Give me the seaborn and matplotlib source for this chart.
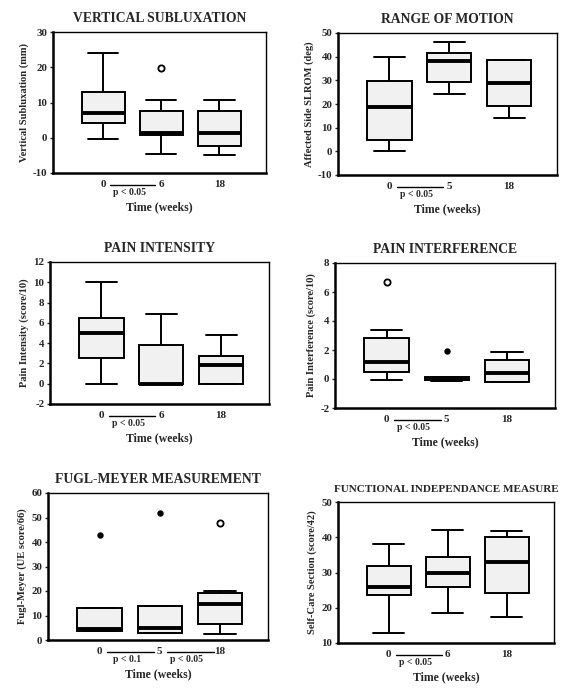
import numpy as np
import pandas as pd
import matplotlib
matplotlib.use("Agg")
import matplotlib.pyplot as plt
import matplotlib.transforms as mtransforms
import seaborn as sns

# --- data: nine values per group (quartiles sit on values 3, 5 and 7) ---
vs_weeks = ["0", "6", "18"]
vs_w0 = [-0.3, 2.0, 4.2, 5.5, 7.0, 10.0, 12.9, 18.0, 24.0]
vs_w6 = [-4.7, -1.5, 0.7, 1.0, 1.3, 4.0, 7.5, 10.7, 19.7]
vs_w18 = [-4.8, -3.5, -2.2, 0.0, 1.3, 5.0, 7.7, 9.0, 10.6]

rom_weeks = ["0", "5", "18"]
rom_w0 = [0.0, 2.0, 4.7, 12.0, 18.6, 24.0, 29.9, 35.0, 40.0]
rom_w5 = [24.3, 27.0, 29.4, 34.0, 38.2, 40.0, 41.7, 44.0, 46.0]
rom_w18 = [14.2, 17.0, 19.3, 24.0, 28.8, 34.0, 38.5, 38.5, 38.5]

pint_weeks = ["0", "6", "18"]
pint_w0 = [0.0, 1.5, 2.5, 4.0, 5.0, 5.8, 6.45, 8.0, 10.0]
pint_w6 = [0.0, 0.0, 0.0, 0.0, 0.0, 2.0, 3.8, 5.0, 6.9]
pint_w18 = [0.0, 0.0, 0.0, 1.0, 1.85, 2.3, 2.7, 3.5, 4.8]

pif_weeks = ["0", "5", "18"]
pif_w0 = [-0.05, 0.2, 0.45, 0.8, 1.15, 2.0, 2.85, 3.35, 6.7]
pif_w5 = [-0.12, -0.12, -0.1, -0.05, -0.02, 0.05, 0.15, 0.15, 1.95]
pif_w18 = [-0.2, -0.2, -0.2, 0.1, 0.4, 0.9, 1.33, 1.6, 1.86]

fm_weeks = ["0", "5", "18"]
fm_w0 = [3.5, 3.5, 3.5, 4.0, 4.5, 9.0, 13.0, 13.0, 43.0]
fm_w5 = [3.0, 3.0, 3.0, 4.0, 5.0, 9.0, 14.0, 14.0, 52.0]
fm_w18 = [2.4, 4.5, 6.7, 10.0, 14.6, 17.0, 19.3, 20.0, 47.7]

fim_weeks = ["0", "6", "18"]
fim_w0 = [12.8, 18.0, 23.7, 25.0, 25.85, 29.0, 31.9, 35.0, 38.1]
fim_w6 = [18.5, 22.0, 26.0, 28.0, 30.0, 32.0, 34.3, 38.0, 42.1]
fim_w18 = [17.4, 21.0, 24.2, 28.0, 32.9, 37.0, 40.2, 41.0, 41.9]

panels = [
    dict(title="VERTICAL SUBLUXATION", ylabel="Vertical Subluxation (mm)",
         weeks=vs_weeks, groups=[vs_w0, vs_w6, vs_w18],
         ylim=(-10, 30), yticks=[-10, 0, 10, 20, 30],
         pvals=[(0, 1, "p < 0.05")], rect=(53, 32, 266, 173), tsize=9.8),
    dict(title="RANGE OF MOTION", ylabel="Affected Side SLROM (deg)",
         weeks=rom_weeks, groups=[rom_w0, rom_w5, rom_w18],
         ylim=(-10, 50), yticks=[-10, 0, 10, 20, 30, 40, 50],
         pvals=[(0, 1, "p < 0.05")], rect=(338, 33, 557, 175), tsize=9.8),
    dict(title="PAIN INTENSITY", ylabel="Pain Intensity (score/10)",
         weeks=pint_weeks, groups=[pint_w0, pint_w6, pint_w18],
         ylim=(-2, 12), yticks=[-2, 0, 2, 4, 6, 8, 10, 12],
         pvals=[(0, 1, "p < 0.05")], rect=(50, 262, 269, 404), tsize=9.8),
    dict(title="PAIN INTERFERENCE", ylabel="Pain Interference (score/10)",
         weeks=pif_weeks, groups=[pif_w0, pif_w5, pif_w18],
         ylim=(-2, 8), yticks=[-2, 0, 2, 4, 6, 8],
         pvals=[(0, 1, "p < 0.05")], rect=(335, 263, 555, 408), tsize=9.8),
    dict(title="FUGL-MEYER MEASUREMENT", ylabel="Fugl-Meyer (UE score/66)",
         weeks=fm_weeks, groups=[fm_w0, fm_w5, fm_w18],
         ylim=(0, 60), yticks=[0, 10, 20, 30, 40, 50, 60],
         pvals=[(0, 1, "p < 0.1"), (1, 2, "p < 0.05")],
         rect=(48, 493, 268, 640), tsize=9.8),
    dict(title="FUNCTIONAL INDEPENDANCE MEASURE", ylabel="Self-Care Section (score/42)",
         weeks=fim_weeks, groups=[fim_w0, fim_w6, fim_w18],
         ylim=(10, 50), yticks=[10, 20, 30, 40, 50],
         pvals=[(0, 1, "p < 0.05")], rect=(338, 502, 554, 643), tsize=8.0),
]

sns.set_theme(style="white")
plt.rcParams["font.family"] = ["Liberation Serif", "DejaVu Serif"]
plt.rcParams["font.weight"] = "bold"

W, H = 565, 689
fig = plt.figure(figsize=(W / 100, H / 100), dpi=100)


def draw_panel(p):
    l, t, r, b = p["rect"]
    ax = fig.add_axes([l / W, 1 - b / H, (r - l) / W, (b - t) / H])
    sizes = [len(g) for g in p["groups"]]
    df = pd.DataFrame({"time": np.repeat(p["weeks"], sizes),
                       "value": np.concatenate(p["groups"])})
    sns.boxplot(data=df, x="time", y="value", order=p["weeks"], ax=ax,
                width=0.74, color="#f1f1f1", saturation=1, linecolor="black",
                linewidth=1.4, whis=1.5, showfliers=False, capwidths=0.52,
                medianprops=dict(linewidth=2.8, color="black"))

    # SPSS style: outliers (>1.5 box lengths) hollow, extremes (>3) filled
    outl, ext = [], []
    for wk, g in zip(p["weeks"], p["groups"]):
        q1, q3 = np.percentile(g, [25, 75])
        iqr = q3 - q1
        for v in g:
            if v > q3 + 3 * iqr or v < q1 - 3 * iqr:
                ext.append((wk, v))
            elif v > q3 + 1.5 * iqr or v < q1 - 1.5 * iqr:
                outl.append((wk, v))
    if outl:
        odf = pd.DataFrame(outl, columns=["time", "value"])
        sns.stripplot(data=odf, x="time", y="value", order=p["weeks"], ax=ax,
                      jitter=False, color="white", edgecolor="black",
                      linewidth=1.3, size=4.5)
    if ext:
        edf = pd.DataFrame(ext, columns=["time", "value"])
        sns.stripplot(data=edf, x="time", y="value", order=p["weeks"], ax=ax,
                      jitter=False, color="black", size=4.6)

    ax.set_xlim(-0.86, 2.8)
    ax.set_ylim(*p["ylim"])
    ax.set_yticks(p["yticks"])
    ax.set_yticklabels([str(v) for v in p["yticks"]], fontsize=7.8, fontweight="bold")
    ax.set_xticks(range(3))
    ax.set_xticklabels(p["weeks"], fontsize=8, fontweight="bold")
    ax.tick_params(axis="x", length=0, pad=5)
    ax.tick_params(axis="y", length=2.5, width=1, direction="out", pad=1.5, left=True)
    for side, sp in ax.spines.items():
        sp.set_visible(True)
        sp.set_color("black")
        sp.set_linewidth(1.8 if side in ("left", "bottom") else 1.0)

    ax.set_title(p["title"], fontsize=p["tsize"], fontweight="bold", pad=7)
    ax.set_ylabel(p["ylabel"], fontsize=7.6, fontweight="bold", labelpad=3)
    ax.set_xlabel("Time (weeks)", fontsize=8.5, fontweight="bold", labelpad=9)

    trans = mtransforms.blended_transform_factory(ax.transData, ax.transAxes)
    for i, j, txt in p["pvals"]:
        ax.plot([i + 0.12, j - 0.1], [-0.085, -0.085], transform=trans,
                clip_on=False, color="black", lw=1.0)
        ax.text((i + j) / 2 - 0.05, -0.135, txt, transform=trans, ha="center",
                va="center", fontsize=7, fontweight="bold")


for p in panels:
    draw_panel(p)

fig.savefig("out.png", dpi=100, facecolor="white")
